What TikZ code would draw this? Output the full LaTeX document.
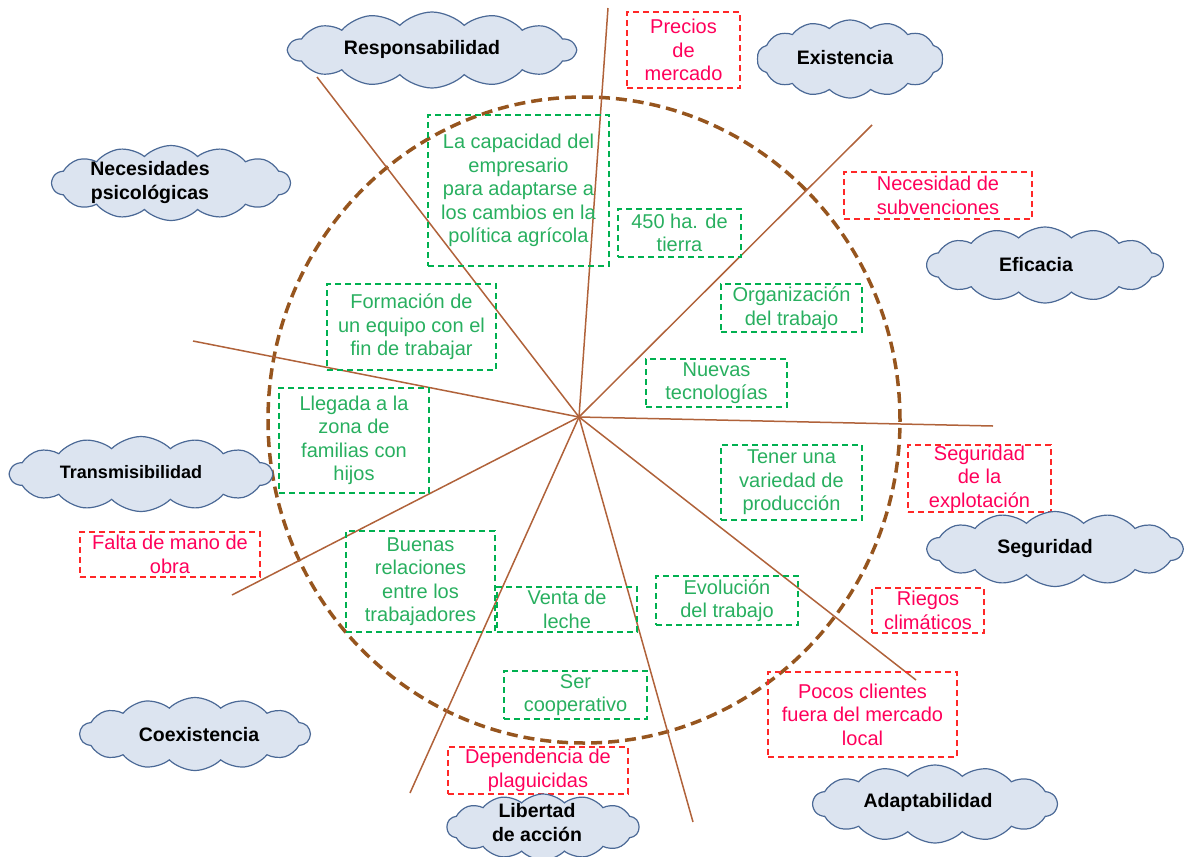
\documentclass[tikz,border=0pt]{standalone}
\usepackage{fontspec}
\setmainfont{Liberation Sans}
\usetikzlibrary{shapes.symbols,fit,calc}

\definecolor{spoke}{RGB}{176,98,58}
\definecolor{ring}{RGB}{150,85,30}
\definecolor{gline}{RGB}{0,176,80}
\definecolor{gtext}{RGB}{40,175,95}
\definecolor{rline}{RGB}{255,40,40}
\definecolor{rtext}{RGB}{255,0,90}
\definecolor{cloudfill}{RGB}{220,228,240}
\definecolor{cloudline}{RGB}{75,105,150}

\begin{document}
\begin{tikzpicture}[x=1pt,y=-1pt,
  spokeline/.style={draw=spoke, line width=1.5pt},
  ringline/.style={draw=ring, line width=3.5pt, dash pattern=on 11pt off 6pt},
  gbox/.style={draw=gline, line width=1.3pt, dash pattern=on 6pt off 4pt, inner sep=0pt},
  rbox/.style={draw=rline, line width=1.3pt, dash pattern=on 6pt off 4pt, inner sep=0pt},
  gtxt/.style={text=gtext, font=\fontsize{20}{23.5}\selectfont, align=center, inner sep=0pt},
  rtxt/.style={text=rtext, font=\fontsize{20}{23.5}\selectfont, align=center, inner sep=0pt},
  puff/.style={cloud, cloud puffs=14, cloud puff arc=90, cloud ignores aspect,
    draw=cloudline, fill=cloudfill, line width=1.2pt, inner sep=0pt},
  ctxt/.style={font=\bfseries\fontsize{19.5}{24}\selectfont, align=center, inner sep=0pt}
]
\useasboundingbox (0,0) rectangle (1184,857);

% dashed ring
\draw[ringline] (584,420) ellipse [x radius=316pt, y radius=323pt];

% spokes from the hub
\coordinate (hub) at (579,417);
\coordinate (e1) at (608,8);
\coordinate (e2) at (317,77);
\coordinate (e3) at (872,125);
\coordinate (e4) at (993,426);
\coordinate (e5) at (916,680);
\coordinate (e6) at (693,822);
\coordinate (e7) at (410,793);
\coordinate (e8) at (232,595);
\coordinate (e9) at (193,341);
\foreach \e in {e1,e2,e3,e4,e5,e6,e7,e8,e9}
  \draw[spokeline] (hub) -- (\e);

% green dashed boxes
\node[gbox, fit={(428,115) (609,266)}] (g-cap) {};
\node[gtxt] at (g-cap) {La capacidad del\\empresario\\para adaptarse a\\los cambios en la\\política agrícola};
\node[gbox, fit={(618,209) (741,257)}] (g-ha) {};
\node[gtxt] at (g-ha) {450 ha. de\\tierra};
\node[gbox, fit={(721,284) (862,332)}] (g-org) {};
\node[gtxt] at (g-org) {Organización\\del trabajo};
\node[gbox, fit={(327,284) (496,370)}] (g-form) {};
\node[gtxt] at (g-form) {Formación de\\un equipo con el\\fin de trabajar};
\node[gbox, fit={(646,359) (787,407)}] (g-nuev) {};
\node[gtxt] at (g-nuev) {Nuevas\\tecnologías};
\node[gbox, fit={(279,388) (429,493)}] (g-lleg) {};
\node[gtxt] at (g-lleg) {Llegada a la\\zona de\\familias con\\hijos};
\node[gbox, fit={(721,445) (862,520)}] (g-ten) {};
\node[gtxt] at (g-ten) {Tener una\\variedad de\\producción};
\node[gbox, fit={(346,531) (495,632)}] (g-buen) {};
\node[gtxt] at (g-buen) {Buenas\\relaciones\\entre los\\trabajadores};
\node[gbox, fit={(497,587) (637,632)}] (g-leche) {};
\node[gtxt] at (g-leche) {Venta de\\leche};
\node[gbox, fit={(656,576) (798,625)}] (g-evol) {};
\node[gtxt] at (g-evol) {Evolución\\del trabajo};
\node[gbox, fit={(504,671) (647,719)}] (g-coop) {};
\node[gtxt] at (g-coop) {Ser\\cooperativo};

% red dashed boxes
\node[rbox, fit={(627,12) (740,88)}] (r-prec) {};
\node[rtxt] at (r-prec) {Precios\\de\\mercado};
\node[rbox, fit={(844,172) (1032,219)}] (r-subv) {};
\node[rtxt] at (r-subv) {Necesidad de\\subvenciones};
\node[rbox, fit={(908,445) (1051,512)}] (r-seg) {};
\node[rtxt] at (r-seg) {Seguridad\\de la\\explotación};
\node[rbox, fit={(872,588) (984,633)}] (r-rieg) {};
\node[rtxt] at (r-rieg) {Riegos\\climáticos};
\node[rbox, fit={(768,672) (957,757)}] (r-poco) {};
\node[rtxt] at (r-poco) {Pocos clientes\\fuera del mercado\\local};
\node[rbox, fit={(448,747) (628,794)}] (r-plag) {};
\node[rtxt] at (r-plag) {Dependencia de\\plaguicidas};
\node[rbox, fit={(80,532) (260,577)}] (r-falta) {};
\node[rtxt] at (r-falta) {Falta de mano de\\obra};

% clouds
\node[puff, minimum width=287pt, minimum height=76pt] (c-resp) at (432,50) {};
\node[ctxt] at (422,49) {Responsabilidad};
\node[puff, minimum width=186pt, minimum height=78pt] (c-exis) at (850,59) {};
\node[ctxt] at (845,58) {Existencia};
\node[puff, minimum width=238pt, minimum height=75pt] (c-nece) at (171,183) {};
\node[ctxt] at (150,182) {Necesidades\\psicológicas};
\node[puff, minimum width=236pt, minimum height=76pt] (c-efic) at (1045,265) {};
\node[ctxt] at (1036,265) {Eficacia};
\node[puff, minimum width=262pt, minimum height=75pt] (c-tran) at (141,474) {};
\node[ctxt, font=\bfseries\fontsize{18}{22}\selectfont] at (131,472) {Transmisibilidad};
\node[puff, minimum width=255pt, minimum height=75pt] (c-segu) at (1055,549) {};
\node[ctxt] at (1045,548) {Seguridad};
\node[puff, minimum width=230pt, minimum height=73pt] (c-coex) at (195,734) {};
\node[ctxt] at (199,735) {Coexistencia};
\node[puff, minimum width=192pt, minimum height=66pt] (c-libe) at (543,827) {};
\node[ctxt] at (537,823) {Libertad\\de acción};
\node[puff, minimum width=244pt, minimum height=78pt] (c-adap) at (935,804) {};
\node[ctxt] at (928,802) {Adaptabilidad};
\end{tikzpicture}
\end{document}
